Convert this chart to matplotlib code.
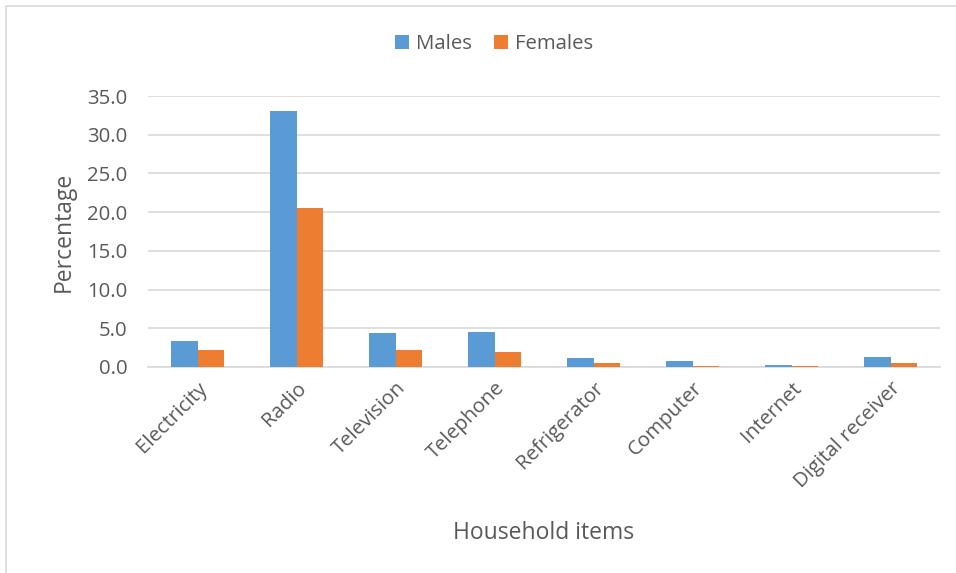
import numpy as np
import matplotlib
matplotlib.use("Agg")
import matplotlib.pyplot as plt
from matplotlib.patches import Rectangle

items = ["Electricity", "Radio", "Television", "Telephone",
         "Refrigerator", "Computer", "Internet", "Digital receiver"]
males = [3.4, 33.0, 4.4, 4.5, 1.1, 0.8, 0.3, 1.3]
females = [2.2, 20.5, 2.2, 1.9, 0.5, 0.15, 0.15, 0.5]
yticks = [0, 5, 10, 15, 20, 25, 30, 35]

BLUE = "#5B9BD5"
ORANGE = "#ED7D31"
TEXT = "#595959"
GRID = "#D9D9D9"

plt.rcParams['font.family'] = ['Open Sans', 'DejaVu Sans']

fig = plt.figure(figsize=(9.56, 5.73), dpi=100)
ax = fig.add_axes([148 / 956, 1 - 367 / 573, 792 / 956, 271 / 573])

# chart frame, only top and left edges are visible
fig.patches.append(Rectangle((5.5 / 956, -0.2), 1.2, 1.2 - 5.5 / 573,
                             transform=fig.transFigure, fill=False,
                             edgecolor=GRID, linewidth=1.2))

x = np.arange(len(items))
w = 0.263
ax.bar(x - w / 2, males, w, color=BLUE, label="Males", zorder=3)
ax.bar(x + w / 2, females, w, color=ORANGE, label="Females", zorder=3)

ax.set_xlim(-0.5, len(items) - 0.5)
ax.set_ylim(0, 35)
ax.set_yticks(yticks)
ax.set_yticklabels([f"{v:.1f}" for v in yticks])
ax.yaxis.grid(True, color=GRID, linewidth=1.2, zorder=0)
for s in ["top", "right", "left"]:
    ax.spines[s].set_visible(False)
ax.spines["bottom"].set_color(GRID)
ax.spines["bottom"].set_linewidth(1.2)
ax.tick_params(axis="both", length=0, colors=TEXT, labelsize=14.7)
ax.tick_params(axis="y", pad=15)

ax.set_xticks(x)
ax.set_xticklabels(items, rotation=45, ha="right", rotation_mode="anchor")
ax.tick_params(axis="x", pad=8)

ax.set_ylabel("Percentage", fontsize=16.5, color=TEXT, labelpad=8)
fig.text(544 / 956, 1 - 533 / 573, "Household items", fontsize=16.5,
         color=TEXT, ha="center", va="center")

fig.legend(loc="center", bbox_to_anchor=(494 / 956, 1 - 44 / 573), ncol=2,
           frameon=False, fontsize=14.7, handlelength=0.69, handleheight=0.69,
           handletextpad=0.34, columnspacing=1.08, labelcolor=TEXT)

fig.savefig("out.png", dpi=100)
